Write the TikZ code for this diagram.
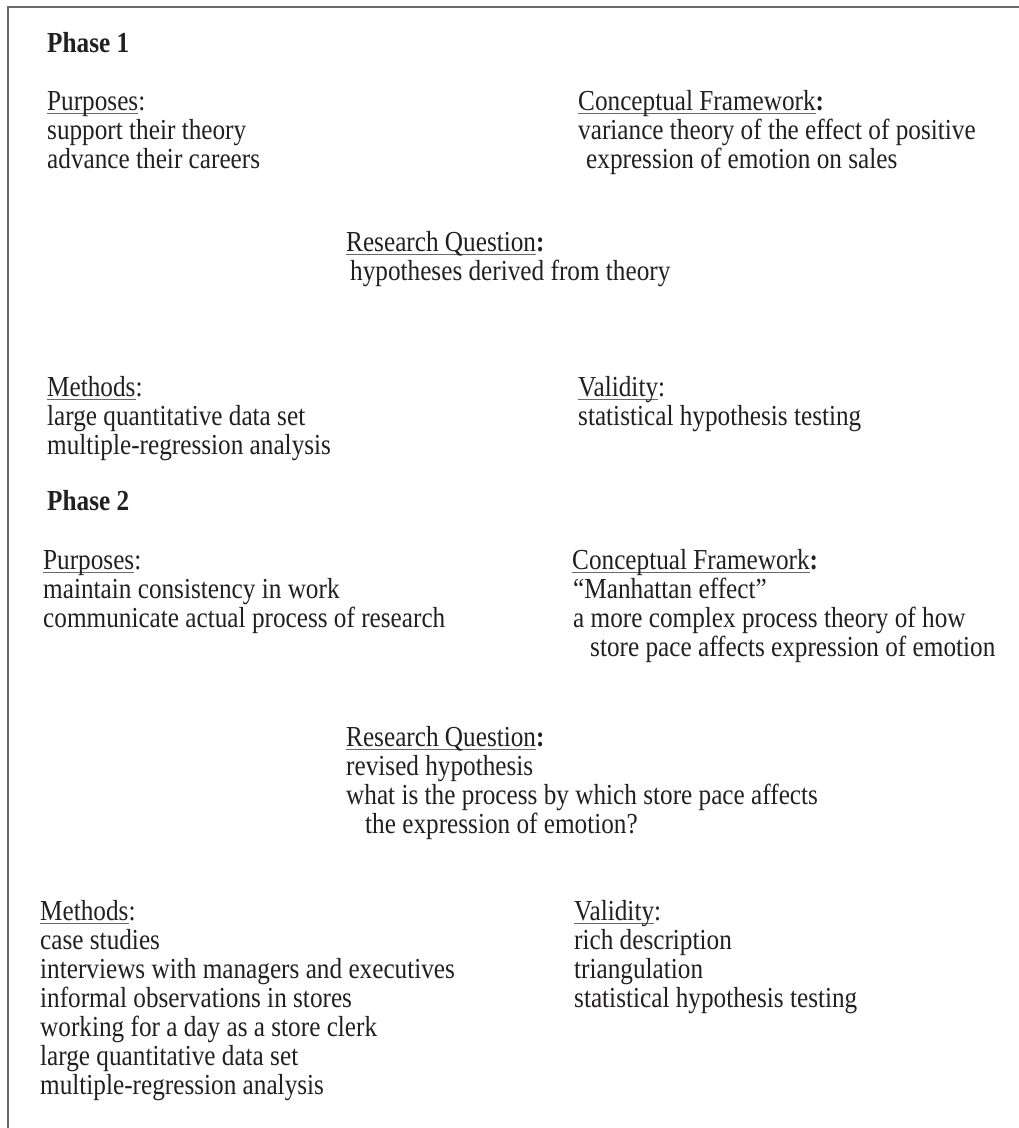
\documentclass[tikz,border=0pt]{standalone}
\usepackage{fontspec}
\setmainfont[FakeStretch=0.87]{Liberation Serif}
\definecolor{ink}{RGB}{35,31,32}
\definecolor{rule}{RGB}{105,105,105}
\newcommand{\head}[1]{\setbox0\hbox{#1}\rlap{\textcolor{rule}{\rule[-4pt]{\wd0}{1.3pt}}}\box0}
\begin{document}
\begin{tikzpicture}
[x=1pt, y=-1pt, font=\fontsize{29}{29}\selectfont, text=ink]
\tikzstyle{block}=[anchor=base west, align=left, inner sep=0pt]
\tikzstyle{phase}=[block, font=\fontsize{29}{29}\selectfont\bfseries]
\useasboundingbox (0,0) rectangle (1019,1128);
\draw[rule, line width=2pt] (8,1128) -- (8,7) -- (1019,7);

% phase 1 (blocks sit on the baseline of their last line)
\node[phase]	(Ph1)	at (47,52)	{Phase 1};
\node[block]	(Pur1)	at (47,168)	{\head{Purposes}:\\support their theory\\advance their careers};
\node[block]	(Fra1)	at (578,168)	{\head{Conceptual Framework}\textbf{:}\\variance theory of the effect of positive\\\hspace*{8pt}expression of emotion on sales};
\node[block]	(Que1)	at (346,280)	{\head{Research Question}\textbf{:}\\\hspace*{4pt}hypotheses derived from theory};
\node[block]	(Met1)	at (47,454)	{\head{Methods}:\\large quantitative data set\\multiple-regression analysis};
\node[block]	(Val1)	at (578,425)	{\head{Validity}:\\statistical hypothesis testing};

% phase 2
\node[phase]	(Ph2)	at (47,510)	{Phase 2};
\node[block]	(Pur2)	at (43,627)	{\head{Purposes}:\\maintain consistency in work\\communicate actual process of research};
\node[block]	(Fra2)	at (572,656)	{\head{Conceptual Framework}\textbf{:}\\\hspace*{1pt}``Manhattan effect''\\\hspace*{1pt}a more complex process theory of how\\\hspace*{18pt}store pace affects expression of emotion};
\node[block]	(Que2)	at (346,833)	{\head{Research Question}\textbf{:}\\revised hypothesis\\what is the process by which store pace affects\\\hspace*{19pt}the expression of emotion?};
\node[block]	(Met2)	at (40,1094)	{\head{Methods}:\\case studies\\interviews with managers and executives\\informal observations in stores\\working for a day as a store clerk\\large quantitative data set\\multiple-regression analysis};
\node[block]	(Val2)	at (574,1007)	{\head{Validity}:\\rich description\\triangulation\\statistical hypothesis testing};

\end{tikzpicture}
\end{document}
